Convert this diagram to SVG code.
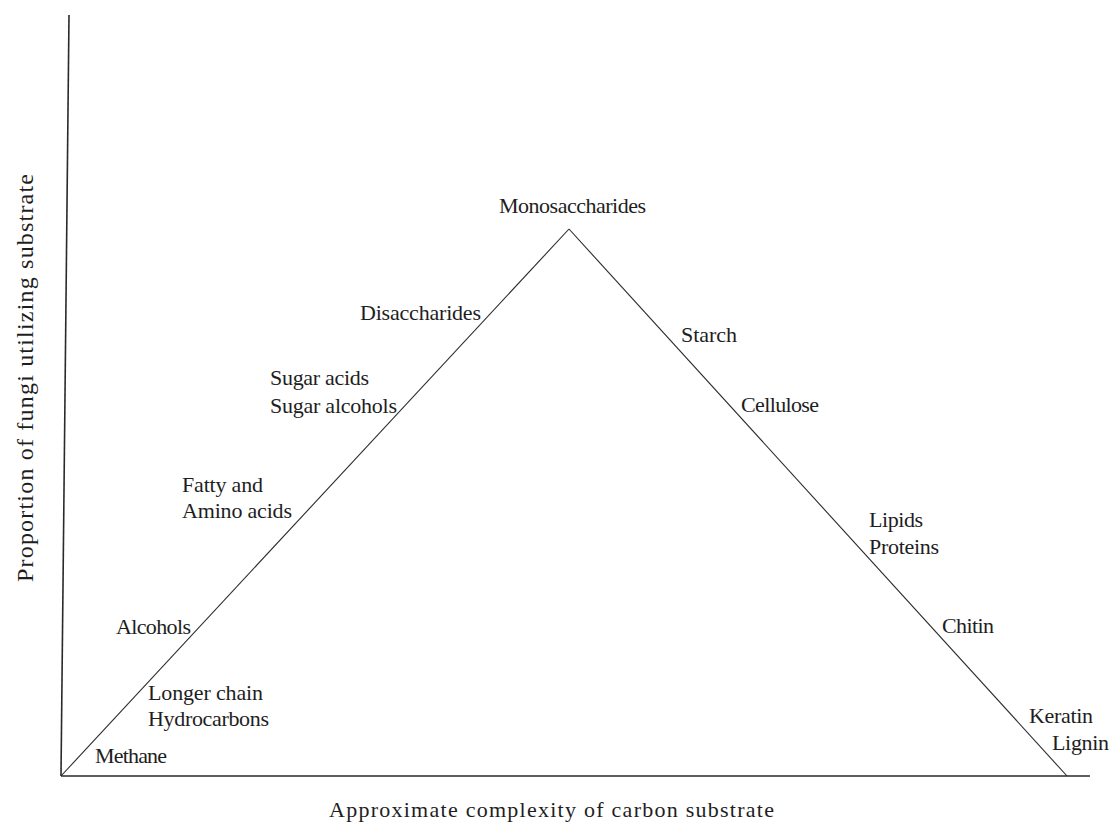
<svg xmlns="http://www.w3.org/2000/svg" width="1110" height="828" viewBox="0 0 1110 828">
<style>
  .lbl { font-family: "Liberation Serif", "Times New Roman", serif; font-size: 22px; fill: #1e1e1e; }
  .ax { font-family: "Liberation Serif", "Times New Roman", serif; font-size: 22px; fill: #1e1e1e; }
  .axy { font-family: "Liberation Serif", "Times New Roman", serif; font-size: 24px; fill: #1e1e1e; }
  .axis { stroke: #2a2a2a; stroke-width: 1.6; fill: none; }
  .edge { stroke: #2a2a2a; stroke-width: 1.1; fill: none; }
</style>
<rect width="1110" height="828" fill="#ffffff"/>
<g id="connectors">
  <line class="axis" x1="69" y1="15" x2="61" y2="776"/>
  <line class="axis" x1="61" y1="776" x2="1090" y2="776"/>
  <line class="edge" x1="61" y1="776" x2="569" y2="229"/>
  <line class="edge" x1="569" y1="229" x2="1067" y2="776"/>
</g>
<g id="axis-x-label"><text class="ax" x="329" y="817" textLength="445" lengthAdjust="spacing">Approximate complexity of carbon substrate</text></g>
<g id="axis-y-label"><text class="axy" x="33" y="582" transform="rotate(-90 33 582)" textLength="408" lengthAdjust="spacing">Proportion of fungi utilizing substrate</text></g>
<g id="monosaccharides"><text class="lbl" x="499" y="213" textLength="147" lengthAdjust="spacing">Monosaccharides</text></g>
<g id="disaccharides"><text class="lbl" x="360" y="320" textLength="121" lengthAdjust="spacing">Disaccharides</text></g>
<g id="sugar">
  <text class="lbl" x="270" y="385" textLength="99" lengthAdjust="spacing">Sugar acids</text>
  <text class="lbl" x="270" y="413" textLength="127" lengthAdjust="spacing">Sugar alcohols</text>
</g>
<g id="fatty-amino">
  <text class="lbl" x="182" y="492" textLength="81" lengthAdjust="spacing">Fatty and</text>
  <text class="lbl" x="182" y="518" textLength="110" lengthAdjust="spacing">Amino acids</text>
</g>
<g id="alcohols"><text class="lbl" x="116" y="634" textLength="75" lengthAdjust="spacing">Alcohols</text></g>
<g id="hydrocarbons">
  <text class="lbl" x="148" y="700" textLength="115" lengthAdjust="spacing">Longer chain</text>
  <text class="lbl" x="148" y="726" textLength="121" lengthAdjust="spacing">Hydrocarbons</text>
</g>
<g id="methane"><text class="lbl" x="95" y="763" textLength="72" lengthAdjust="spacing">Methane</text></g>
<g id="starch"><text class="lbl" x="681" y="342" textLength="56" lengthAdjust="spacing">Starch</text></g>
<g id="cellulose"><text class="lbl" x="741" y="412" textLength="78" lengthAdjust="spacing">Cellulose</text></g>
<g id="lipids-proteins">
  <text class="lbl" x="869" y="527" textLength="54" lengthAdjust="spacing">Lipids</text>
  <text class="lbl" x="869" y="554" textLength="70" lengthAdjust="spacing">Proteins</text>
</g>
<g id="chitin"><text class="lbl" x="942" y="633" textLength="52" lengthAdjust="spacing">Chitin</text></g>
<g id="keratin-lignin">
  <text class="lbl" x="1029" y="723" textLength="64" lengthAdjust="spacing">Keratin</text>
  <text class="lbl" x="1052" y="750" textLength="57" lengthAdjust="spacing">Lignin</text>
</g>
</svg>
